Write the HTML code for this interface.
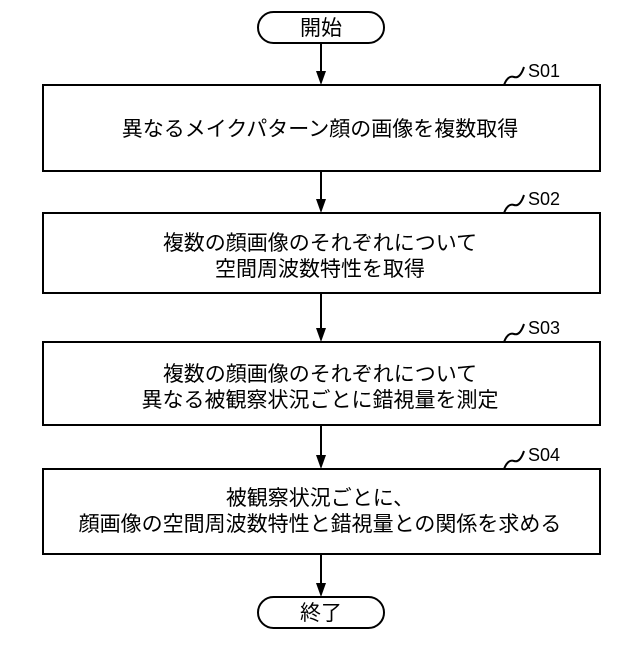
<!DOCTYPE html>
<html><head><meta charset="utf-8"><style>
body{margin:0;background:#fff;}
svg text{font-family:"Liberation Sans","Noto Sans CJK JP",sans-serif;fill:#000;}
.t{font-size:21px;letter-spacing:0px;text-anchor:middle;}
.l{font-size:18px;}
</style></head><body>
<svg width="640" height="640" viewBox="0 0 640 640" xmlns="http://www.w3.org/2000/svg">
<g fill="none" stroke="#000" stroke-width="2">
<rect x="258" y="12" width="126" height="31" rx="15.5"/>
<rect x="258" y="597" width="126" height="31" rx="15.5"/>
<rect x="43" y="85" width="557" height="86"/>
<rect x="43" y="213" width="557" height="80"/>
<rect x="43" y="342" width="557" height="83"/>
<rect x="43" y="469" width="557" height="85"/>
<path d="M504,85 q4,-10 10,-8 q6,2 10,-10"/>
<path d="M504,213 q4,-10 10,-8 q6,2 10,-10"/>
<path d="M504,342 q4,-10 10,-8 q6,2 10,-10"/>
<path d="M504,469 q4,-10 10,-8 q6,2 10,-10"/>
</g>
<g stroke="#000" stroke-width="2">
<line x1="321" y1="43" x2="321" y2="72"/>
<line x1="321" y1="171" x2="321" y2="200"/>
<line x1="321" y1="293" x2="321" y2="329"/>
<line x1="321" y1="425" x2="321" y2="456"/>
<line x1="321" y1="554" x2="321" y2="584"/>
</g>
<g fill="#000">
<path d="M316,71 L326,71 L321,85 Z"/>
<path d="M316,199 L326,199 L321,213 Z"/>
<path d="M316,328 L326,328 L321,342 Z"/>
<path d="M316,455 L326,455 L321,469 Z"/>
<path d="M316,583 L326,583 L321,597 Z"/>
</g>
<text class="t" x="321" y="35">開始</text>
<text class="t" x="321" y="620">終了</text>
<text class="l" x="528" y="77">S01</text>
<text class="l" x="528" y="205">S02</text>
<text class="l" x="528" y="334">S03</text>
<text class="l" x="528" y="461">S04</text>
<text class="t" x="320" y="136">異なるメイクパターン顔の画像を複数取得</text>
<text class="t" x="320" y="250">複数の顔画像のそれぞれについて</text>
<text class="t" x="320" y="276">空間周波数特性を取得</text>
<text class="t" x="320" y="381">複数の顔画像のそれぞれについて</text>
<text class="t" x="320" y="407">異なる被観察状況ごとに錯視量を測定</text>
<text class="t" x="320" y="505">被観察状況ごとに、</text>
<text class="t" x="320" y="531">顔画像の空間周波数特性と錯視量との関係を求める</text>
</svg>
</body></html>
